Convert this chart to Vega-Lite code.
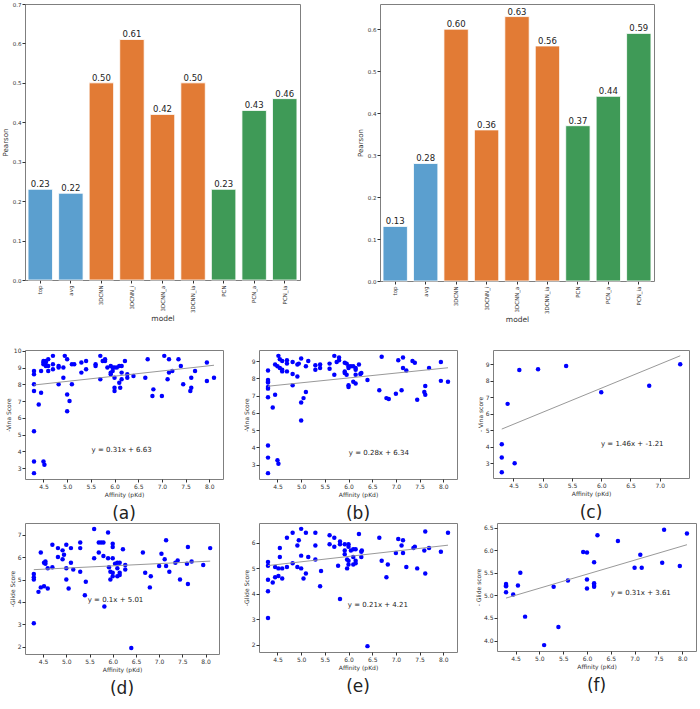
{
  "$schema": "https://vega.github.io/schema/vega-lite/v6.json",
  "padding": {"left": 0, "top": 1, "right": 0, "bottom": 0},
  "background": "white",
  "config": {
    "font": "DejaVu Sans",
    "view": {"stroke": "#7f7f7f", "strokeWidth": 1},
    "axis": {"domain": false, "grid": false, "tickColor": "#333", "tickSize": 3, "labelColor": "#333", "titleColor": "#333", "labelFontSize": 6, "titleFontSize": 6, "titleFontWeight": "normal", "labelPadding": 1, "titlePadding": 2, "labelOverlap": false, "labelFlush": false, "labelBound": false, "tickCount": 20},
    "title": {"fontWeight": "normal", "color": "#222"}
  },
  "datasets": {
    "bars": [
      {"chart": "L", "model": "top", "pearson": 0.23, "group": "base"},
      {"chart": "L", "model": "avg", "pearson": 0.22, "group": "base"},
      {"chart": "L", "model": "3DCNN", "pearson": 0.50, "group": "cnn"},
      {"chart": "L", "model": "3DCNN_i", "pearson": 0.61, "group": "cnn"},
      {"chart": "L", "model": "3DCNN_a", "pearson": 0.42, "group": "cnn"},
      {"chart": "L", "model": "3DCNN_ia", "pearson": 0.50, "group": "cnn"},
      {"chart": "L", "model": "PCN", "pearson": 0.23, "group": "pcn"},
      {"chart": "L", "model": "PCN_a", "pearson": 0.43, "group": "pcn"},
      {"chart": "L", "model": "PCN_ia", "pearson": 0.46, "group": "pcn"},
      {"chart": "R", "model": "top", "pearson": 0.13, "group": "base"},
      {"chart": "R", "model": "avg", "pearson": 0.28, "group": "base"},
      {"chart": "R", "model": "3DCNN", "pearson": 0.60, "group": "cnn"},
      {"chart": "R", "model": "3DCNN_i", "pearson": 0.36, "group": "cnn"},
      {"chart": "R", "model": "3DCNN_a", "pearson": 0.63, "group": "cnn"},
      {"chart": "R", "model": "3DCNN_ia", "pearson": 0.56, "group": "cnn"},
      {"chart": "R", "model": "PCN", "pearson": 0.37, "group": "pcn"},
      {"chart": "R", "model": "PCN_a", "pearson": 0.44, "group": "pcn"},
      {"chart": "R", "model": "PCN_ia", "pearson": 0.59, "group": "pcn"}
    ],
    "eqs": [
      {"panel": "a", "eq": "y = 0.31x + 6.63"},
      {"panel": "b", "eq": "y = 0.28x + 6.34"},
      {"panel": "c", "eq": "y = 1.46x + -1.21"},
      {"panel": "d", "eq": "y = 0.1x + 5.01"},
      {"panel": "e", "eq": "y = 0.21x + 4.21"},
      {"panel": "f", "eq": "y = 0.31x + 3.61"}
    ],
    "lines": [
      {"panel": "a", "affinity": 4.3, "score": 7.96}, {"panel": "a", "affinity": 8.1, "score": 9.14},
      {"panel": "b", "affinity": 4.3, "score": 7.54}, {"panel": "b", "affinity": 8.1, "score": 8.61},
      {"panel": "c", "affinity": 4.3, "score": 5.07}, {"panel": "c", "affinity": 7.35, "score": 9.52},
      {"panel": "d", "affinity": 4.3, "score": 5.44}, {"panel": "d", "affinity": 8.1, "score": 5.82},
      {"panel": "e", "affinity": 4.3, "score": 5.11}, {"panel": "e", "affinity": 8.1, "score": 5.91},
      {"panel": "f", "affinity": 4.3, "score": 4.94}, {"panel": "f", "affinity": 8.1, "score": 6.12}
    ],
    "scatter": [
      {"panel":"a","affinity":4.3,"score":8.8},{"panel":"a","affinity":4.3,"score":8.6},{"panel":"a","affinity":4.3,"score":8.0},{"panel":"a","affinity":4.3,"score":7.6},{"panel":"a","affinity":4.3,"score":5.2},{"panel":"a","affinity":4.3,"score":3.4},{"panel":"a","affinity":4.3,"score":2.7},
      {"panel":"a","affinity":4.4,"score":6.8},{"panel":"a","affinity":4.45,"score":7.5},{"panel":"a","affinity":4.45,"score":8.8},
      {"panel":"a","affinity":4.5,"score":9.3},{"panel":"a","affinity":4.5,"score":9.4},{"panel":"a","affinity":4.5,"score":9.2},{"panel":"a","affinity":4.5,"score":3.4},{"panel":"a","affinity":4.52,"score":3.2},
      {"panel":"a","affinity":4.55,"score":9.4},{"panel":"a","affinity":4.55,"score":9.3},{"panel":"a","affinity":4.55,"score":9.1},
      {"panel":"a","affinity":4.6,"score":9.5},{"panel":"a","affinity":4.6,"score":8.8},{"panel":"a","affinity":4.6,"score":9.1},
      {"panel":"a","affinity":4.7,"score":9.7},{"panel":"a","affinity":4.7,"score":9.2},{"panel":"a","affinity":4.7,"score":8.9},
      {"panel":"a","affinity":4.82,"score":9.1},{"panel":"a","affinity":4.82,"score":9.0},{"panel":"a","affinity":4.82,"score":8.0},
      {"panel":"a","affinity":4.92,"score":9.0},{"panel":"a","affinity":4.92,"score":8.4},{"panel":"a","affinity":4.95,"score":9.7},
      {"panel":"a","affinity":5.0,"score":9.5},{"panel":"a","affinity":5.0,"score":7.4},{"panel":"a","affinity":5.0,"score":6.4},{"panel":"a","affinity":5.05,"score":7.0},
      {"panel":"a","affinity":5.1,"score":9.2},{"panel":"a","affinity":5.1,"score":8.0},{"panel":"a","affinity":5.15,"score":9.2},
      {"panel":"a","affinity":5.3,"score":9.3},{"panel":"a","affinity":5.3,"score":8.7},{"panel":"a","affinity":5.4,"score":9.4},{"panel":"a","affinity":5.4,"score":8.9},
      {"panel":"a","affinity":5.6,"score":9.2},{"panel":"a","affinity":5.6,"score":9.1},{"panel":"a","affinity":5.7,"score":9.7},{"panel":"a","affinity":5.7,"score":8.3},
      {"panel":"a","affinity":5.75,"score":9.4},{"panel":"a","affinity":5.8,"score":9.5},{"panel":"a","affinity":5.8,"score":9.4},{"panel":"a","affinity":5.85,"score":9.0},
      {"panel":"a","affinity":5.92,"score":9.1},{"panel":"a","affinity":5.92,"score":8.7},{"panel":"a","affinity":5.92,"score":8.6},{"panel":"a","affinity":5.96,"score":8.8},{"panel":"a","affinity":5.96,"score":9.0},
      {"panel":"a","affinity":6.0,"score":9.0},{"panel":"a","affinity":6.0,"score":8.4},{"panel":"a","affinity":6.0,"score":7.8},{"panel":"a","affinity":6.0,"score":7.6},{"panel":"a","affinity":6.05,"score":9.0},
      {"panel":"a","affinity":6.1,"score":9.1},{"panel":"a","affinity":6.1,"score":8.1},{"panel":"a","affinity":6.12,"score":7.8},
      {"panel":"a","affinity":6.15,"score":9.1},{"panel":"a","affinity":6.15,"score":8.7},{"panel":"a","affinity":6.15,"score":8.3},{"panel":"a","affinity":6.22,"score":9.4},
      {"panel":"a","affinity":6.27,"score":8.6},{"panel":"a","affinity":6.27,"score":8.4},{"panel":"a","affinity":6.4,"score":8.5},
      {"panel":"a","affinity":6.65,"score":8.4},{"panel":"a","affinity":6.7,"score":9.5},{"panel":"a","affinity":6.8,"score":7.3},{"panel":"a","affinity":6.82,"score":7.7},
      {"panel":"a","affinity":7.0,"score":7.3},{"panel":"a","affinity":7.05,"score":9.7},{"panel":"a","affinity":7.12,"score":8.3},{"panel":"a","affinity":7.15,"score":9.5},{"panel":"a","affinity":7.15,"score":8.7},{"panel":"a","affinity":7.22,"score":8.8},
      {"panel":"a","affinity":7.35,"score":9.5},{"panel":"a","affinity":7.4,"score":9.1},{"panel":"a","affinity":7.45,"score":8.0},
      {"panel":"a","affinity":7.6,"score":7.6},{"panel":"a","affinity":7.62,"score":7.8},{"panel":"a","affinity":7.62,"score":8.4},{"panel":"a","affinity":7.7,"score":8.8},
      {"panel":"a","affinity":7.95,"score":9.3},{"panel":"a","affinity":7.95,"score":8.2},{"panel":"a","affinity":8.1,"score":8.4},

      {"panel":"b","affinity":4.3,"score":8.45},{"panel":"b","affinity":4.3,"score":7.9},{"panel":"b","affinity":4.3,"score":7.8},{"panel":"b","affinity":4.3,"score":7.75},{"panel":"b","affinity":4.3,"score":7.5},{"panel":"b","affinity":4.3,"score":7.4},{"panel":"b","affinity":4.3,"score":6.9},{"panel":"b","affinity":4.3,"score":4.1},{"panel":"b","affinity":4.3,"score":3.4},{"panel":"b","affinity":4.3,"score":2.5},
      {"panel":"b","affinity":4.4,"score":6.3},{"panel":"b","affinity":4.45,"score":8.8},{"panel":"b","affinity":4.45,"score":7.05},
      {"panel":"b","affinity":4.5,"score":3.25},{"panel":"b","affinity":4.5,"score":8.7},{"panel":"b","affinity":4.52,"score":9.3},{"panel":"b","affinity":4.52,"score":3.05},
      {"panel":"b","affinity":4.55,"score":9.1},{"panel":"b","affinity":4.55,"score":8.6},{"panel":"b","affinity":4.6,"score":9.0},{"panel":"b","affinity":4.6,"score":8.5},{"panel":"b","affinity":4.6,"score":8.4},
      {"panel":"b","affinity":4.7,"score":9.05},{"panel":"b","affinity":4.7,"score":8.85},{"panel":"b","affinity":4.7,"score":8.4},
      {"panel":"b","affinity":4.82,"score":8.95},{"panel":"b","affinity":4.82,"score":8.25},{"panel":"b","affinity":4.82,"score":7.6},
      {"panel":"b","affinity":4.92,"score":8.8},{"panel":"b","affinity":4.92,"score":8.1},{"panel":"b","affinity":4.95,"score":8.85},
      {"panel":"b","affinity":5.0,"score":9.15},{"panel":"b","affinity":5.0,"score":6.6},{"panel":"b","affinity":5.0,"score":5.55},{"panel":"b","affinity":5.05,"score":6.85},
      {"panel":"b","affinity":5.1,"score":8.7},{"panel":"b","affinity":5.1,"score":7.2},{"panel":"b","affinity":5.15,"score":9.0},
      {"panel":"b","affinity":5.3,"score":8.75},{"panel":"b","affinity":5.3,"score":8.5},{"panel":"b","affinity":5.4,"score":8.8},{"panel":"b","affinity":5.4,"score":8.6},
      {"panel":"b","affinity":5.6,"score":8.85},{"panel":"b","affinity":5.6,"score":8.55},{"panel":"b","affinity":5.7,"score":9.3},{"panel":"b","affinity":5.7,"score":8.2},
      {"panel":"b","affinity":5.75,"score":8.95},{"panel":"b","affinity":5.8,"score":9.2},{"panel":"b","affinity":5.8,"score":9.05},
      {"panel":"b","affinity":5.92,"score":8.9},{"panel":"b","affinity":5.92,"score":8.4},{"panel":"b","affinity":5.92,"score":8.3},{"panel":"b","affinity":5.96,"score":8.85},{"panel":"b","affinity":5.96,"score":8.2},
      {"panel":"b","affinity":6.0,"score":8.7},{"panel":"b","affinity":6.0,"score":8.6},{"panel":"b","affinity":6.0,"score":7.6},{"panel":"b","affinity":6.0,"score":7.5},{"panel":"b","affinity":6.05,"score":8.7},
      {"panel":"b","affinity":6.1,"score":8.7},{"panel":"b","affinity":6.1,"score":7.8},{"panel":"b","affinity":6.15,"score":8.6},{"panel":"b","affinity":6.15,"score":8.5},{"panel":"b","affinity":6.15,"score":8.2},{"panel":"b","affinity":6.15,"score":7.7},
      {"panel":"b","affinity":6.22,"score":8.8},{"panel":"b","affinity":6.27,"score":8.3},{"panel":"b","affinity":6.25,"score":8.25},{"panel":"b","affinity":6.4,"score":7.9},
      {"panel":"b","affinity":6.65,"score":7.3},{"panel":"b","affinity":6.7,"score":9.25},{"panel":"b","affinity":6.8,"score":6.85},{"panel":"b","affinity":6.85,"score":6.8},
      {"panel":"b","affinity":7.0,"score":7.1},{"panel":"b","affinity":7.05,"score":9.05},{"panel":"b","affinity":7.12,"score":7.3},{"panel":"b","affinity":7.15,"score":9.2},{"panel":"b","affinity":7.15,"score":8.6},{"panel":"b","affinity":7.22,"score":8.45},
      {"panel":"b","affinity":7.35,"score":9.0},{"panel":"b","affinity":7.4,"score":8.9},{"panel":"b","affinity":7.45,"score":6.75},
      {"panel":"b","affinity":7.6,"score":7.2},{"panel":"b","affinity":7.62,"score":7.05},{"panel":"b","affinity":7.62,"score":7.55},{"panel":"b","affinity":7.7,"score":8.6},
      {"panel":"b","affinity":7.95,"score":8.95},{"panel":"b","affinity":7.95,"score":7.85},{"panel":"b","affinity":8.1,"score":7.8},

      {"panel":"c","affinity":4.3,"score":4.15},{"panel":"c","affinity":4.3,"score":3.35},{"panel":"c","affinity":4.3,"score":2.45},{"panel":"c","affinity":4.4,"score":6.6},{"panel":"c","affinity":4.52,"score":3.0},{"panel":"c","affinity":4.6,"score":8.65},{"panel":"c","affinity":4.92,"score":8.7},{"panel":"c","affinity":5.4,"score":8.9},{"panel":"c","affinity":6.0,"score":7.3},{"panel":"c","affinity":6.82,"score":7.7},{"panel":"c","affinity":7.35,"score":9.0},

      {"panel":"d","affinity":4.3,"score":5.25},{"panel":"d","affinity":4.3,"score":5.1},{"panel":"d","affinity":4.3,"score":5.0},{"panel":"d","affinity":4.3,"score":3.05},
      {"panel":"d","affinity":4.4,"score":4.45},{"panel":"d","affinity":4.45,"score":6.2},{"panel":"d","affinity":4.45,"score":4.65},{"panel":"d","affinity":4.52,"score":4.7},{"panel":"d","affinity":4.52,"score":5.75},
      {"panel":"d","affinity":4.55,"score":5.7},{"panel":"d","affinity":4.55,"score":5.8},{"panel":"d","affinity":4.6,"score":5.5},{"panel":"d","affinity":4.6,"score":4.6},
      {"panel":"d","affinity":4.7,"score":6.55},{"panel":"d","affinity":4.7,"score":5.55},{"panel":"d","affinity":4.82,"score":6.4},{"panel":"d","affinity":4.82,"score":6.0},
      {"panel":"d","affinity":4.92,"score":6.3},{"panel":"d","affinity":4.92,"score":5.9},{"panel":"d","affinity":4.95,"score":6.1},
      {"panel":"d","affinity":5.0,"score":6.55},{"panel":"d","affinity":5.0,"score":5.5},{"panel":"d","affinity":5.0,"score":5.0},{"panel":"d","affinity":5.05,"score":4.6},
      {"panel":"d","affinity":5.1,"score":6.4},{"panel":"d","affinity":5.1,"score":5.75},{"panel":"d","affinity":5.15,"score":5.45},
      {"panel":"d","affinity":5.3,"score":6.65},{"panel":"d","affinity":5.3,"score":6.4},{"panel":"d","affinity":5.3,"score":5.35},{"panel":"d","affinity":5.4,"score":4.3},{"panel":"d","affinity":5.42,"score":4.9},
      {"panel":"d","affinity":5.6,"score":7.25},{"panel":"d","affinity":5.6,"score":5.95},{"panel":"d","affinity":5.7,"score":6.65},{"panel":"d","affinity":5.7,"score":6.2},{"panel":"d","affinity":5.75,"score":6.65},
      {"panel":"d","affinity":5.8,"score":6.65},{"panel":"d","affinity":5.8,"score":6.05},{"panel":"d","affinity":5.82,"score":3.8},
      {"panel":"d","affinity":5.9,"score":7.1},{"panel":"d","affinity":5.9,"score":5.95},{"panel":"d","affinity":5.92,"score":5.55},{"panel":"d","affinity":5.95,"score":5.35},{"panel":"d","affinity":5.95,"score":5.0},
      {"panel":"d","affinity":6.0,"score":6.6},{"panel":"d","affinity":6.0,"score":6.45},{"panel":"d","affinity":6.0,"score":5.95},{"panel":"d","affinity":6.0,"score":5.3},{"panel":"d","affinity":6.0,"score":5.15},{"panel":"d","affinity":6.05,"score":5.7},
      {"panel":"d","affinity":6.1,"score":5.75},{"panel":"d","affinity":6.1,"score":5.5},{"panel":"d","affinity":6.1,"score":5.15},{"panel":"d","affinity":6.15,"score":5.75},{"panel":"d","affinity":6.15,"score":5.3},{"panel":"d","affinity":6.15,"score":5.2},
      {"panel":"d","affinity":6.22,"score":6.35},{"panel":"d","affinity":6.27,"score":5.65},{"panel":"d","affinity":6.27,"score":5.45},{"panel":"d","affinity":6.4,"score":1.95},
      {"panel":"d","affinity":6.65,"score":6.2},{"panel":"d","affinity":6.7,"score":5.3},{"panel":"d","affinity":6.8,"score":4.65},{"panel":"d","affinity":6.82,"score":5.15},
      {"panel":"d","affinity":7.0,"score":5.6},{"panel":"d","affinity":7.05,"score":6.15},{"panel":"d","affinity":7.12,"score":5.9},{"panel":"d","affinity":7.15,"score":6.75},{"panel":"d","affinity":7.15,"score":5.6},{"panel":"d","affinity":7.22,"score":5.35},
      {"panel":"d","affinity":7.35,"score":5.75},{"panel":"d","affinity":7.4,"score":5.85},{"panel":"d","affinity":7.45,"score":5.0},
      {"panel":"d","affinity":7.6,"score":5.7},{"panel":"d","affinity":7.62,"score":6.45},{"panel":"d","affinity":7.62,"score":4.8},{"panel":"d","affinity":7.7,"score":5.8},{"panel":"d","affinity":7.95,"score":5.65},{"panel":"d","affinity":8.1,"score":6.4},

      {"panel":"e","affinity":4.3,"score":5.25},{"panel":"e","affinity":4.3,"score":5.1},{"panel":"e","affinity":4.3,"score":4.55},{"panel":"e","affinity":4.3,"score":4.1},{"panel":"e","affinity":4.3,"score":3.05},
      {"panel":"e","affinity":4.4,"score":4.45},{"panel":"e","affinity":4.45,"score":5.05},{"panel":"e","affinity":4.45,"score":4.65},{"panel":"e","affinity":4.52,"score":5.0},{"panel":"e","affinity":4.52,"score":4.7},
      {"panel":"e","affinity":4.55,"score":5.8},{"panel":"e","affinity":4.55,"score":5.45},{"panel":"e","affinity":4.6,"score":5.0},{"panel":"e","affinity":4.6,"score":4.6},
      {"panel":"e","affinity":4.7,"score":6.2},{"panel":"e","affinity":4.7,"score":5.05},{"panel":"e","affinity":4.82,"score":6.4},{"panel":"e","affinity":4.82,"score":5.2},
      {"panel":"e","affinity":4.92,"score":5.9},{"panel":"e","affinity":4.92,"score":5.05},{"panel":"e","affinity":4.95,"score":6.1},
      {"panel":"e","affinity":5.0,"score":6.55},{"panel":"e","affinity":5.0,"score":5.5},{"panel":"e","affinity":5.0,"score":5.0},{"panel":"e","affinity":5.05,"score":4.6},
      {"panel":"e","affinity":5.1,"score":6.4},{"panel":"e","affinity":5.1,"score":4.8},{"panel":"e","affinity":5.15,"score":5.45},
      {"panel":"e","affinity":5.3,"score":6.4},{"panel":"e","affinity":5.3,"score":5.9},{"panel":"e","affinity":5.3,"score":5.35},{"panel":"e","affinity":5.4,"score":4.3},{"panel":"e","affinity":5.42,"score":4.9},
      {"panel":"e","affinity":5.6,"score":6.3},{"panel":"e","affinity":5.6,"score":5.95},{"panel":"e","affinity":5.7,"score":6.2},{"panel":"e","affinity":5.7,"score":5.85},{"panel":"e","affinity":5.78,"score":5.1},
      {"panel":"e","affinity":5.82,"score":6.05},{"panel":"e","affinity":5.82,"score":5.95},{"panel":"e","affinity":5.82,"score":3.8},
      {"panel":"e","affinity":5.92,"score":5.95},{"panel":"e","affinity":5.92,"score":5.7},{"panel":"e","affinity":5.92,"score":5.55},{"panel":"e","affinity":5.97,"score":5.35},{"panel":"e","affinity":5.97,"score":5.0},
      {"panel":"e","affinity":6.0,"score":5.95},{"panel":"e","affinity":6.0,"score":5.85},{"panel":"e","affinity":6.0,"score":5.3},{"panel":"e","affinity":6.0,"score":5.15},{"panel":"e","affinity":6.05,"score":5.7},
      {"panel":"e","affinity":6.1,"score":5.75},{"panel":"e","affinity":6.1,"score":5.45},{"panel":"e","affinity":6.1,"score":5.15},{"panel":"e","affinity":6.15,"score":5.75},{"panel":"e","affinity":6.15,"score":5.3},{"panel":"e","affinity":6.15,"score":5.2},
      {"panel":"e","affinity":6.22,"score":6.35},{"panel":"e","affinity":6.27,"score":5.65},{"panel":"e","affinity":6.27,"score":5.45},{"panel":"e","affinity":6.28,"score":5.7},{"panel":"e","affinity":6.4,"score":1.95},
      {"panel":"e","affinity":6.65,"score":6.2},{"panel":"e","affinity":6.7,"score":5.3},{"panel":"e","affinity":6.8,"score":4.65},{"panel":"e","affinity":6.83,"score":5.15},
      {"panel":"e","affinity":7.0,"score":5.6},{"panel":"e","affinity":7.05,"score":6.15},{"panel":"e","affinity":7.12,"score":5.9},{"panel":"e","affinity":7.15,"score":6.1},{"panel":"e","affinity":7.15,"score":5.6},{"panel":"e","affinity":7.22,"score":5.05},
      {"panel":"e","affinity":7.37,"score":5.8},{"panel":"e","affinity":7.4,"score":5.85},{"panel":"e","affinity":7.45,"score":5.0},
      {"panel":"e","affinity":7.6,"score":5.7},{"panel":"e","affinity":7.62,"score":6.45},{"panel":"e","affinity":7.62,"score":4.8},{"panel":"e","affinity":7.7,"score":5.8},{"panel":"e","affinity":7.95,"score":5.65},{"panel":"e","affinity":8.1,"score":6.4},

      {"panel":"f","affinity":4.3,"score":5.25},{"panel":"f","affinity":4.3,"score":5.22},{"panel":"f","affinity":4.3,"score":5.2},{"panel":"f","affinity":4.3,"score":5.07},{"panel":"f","affinity":4.45,"score":5.02},{"panel":"f","affinity":4.55,"score":5.22},{"panel":"f","affinity":4.6,"score":5.5},{"panel":"f","affinity":4.7,"score":4.53},
      {"panel":"f","affinity":5.1,"score":3.9},{"panel":"f","affinity":5.3,"score":5.19},{"panel":"f","affinity":5.4,"score":4.3},{"panel":"f","affinity":5.6,"score":5.33},
      {"panel":"f","affinity":5.92,"score":5.96},{"panel":"f","affinity":6.0,"score":5.95},{"panel":"f","affinity":6.0,"score":5.35},{"panel":"f","affinity":6.0,"score":5.15},
      {"panel":"f","affinity":6.15,"score":5.73},{"panel":"f","affinity":6.15,"score":5.27},{"panel":"f","affinity":6.15,"score":5.23},{"panel":"f","affinity":6.15,"score":5.19},{"panel":"f","affinity":6.22,"score":6.33},{"panel":"f","affinity":6.65,"score":6.2},
      {"panel":"f","affinity":7.0,"score":5.61},{"panel":"f","affinity":7.12,"score":5.9},{"panel":"f","affinity":7.15,"score":5.61},{"panel":"f","affinity":7.58,"score":5.72},{"panel":"f","affinity":7.62,"score":6.45},{"panel":"f","affinity":7.95,"score":5.65},{"panel":"f","affinity":8.1,"score":6.37}
    ]
  },
  "spacing": 23,
  "vconcat": [
    {
      "hconcat": [
        {
          "width": 275, "height": 276,
          "data": {"name": "bars"},
          "transform": [{"filter": "datum.chart === 'L'"}],
          "encoding": {
            "x": {"field": "model", "type": "nominal", "sort": null, "scale": {"paddingInner": 0.2, "paddingOuter": 0.1}, "axis": {"labelAngle": -90, "title": "model", "titleFontSize": 7.5, "labelFontSize": 5.5, "titlePadding": 2, "labelPadding": 2}},
            "y": {"field": "pearson", "type": "quantitative", "scale": {"domain": [0, 0.7], "nice": false}, "axis": {"values": [0, 0.1, 0.2, 0.3, 0.4, 0.5, 0.6, 0.7], "format": ".1f", "title": "Pearson", "titleFontSize": 7, "labelFontSize": 5.5, "titlePadding": 4}}
          },
          "layer": [
            {"mark": {"type": "bar", "stroke": "white", "strokeWidth": 0.8}, "encoding": {"color": {"field": "group", "type": "nominal", "scale": {"domain": ["base", "cnn", "pcn"], "range": ["#5b9fcf", "#e27b35", "#3f9a57"]}, "legend": null}}},
            {"mark": {"type": "text", "dy": -5, "fontSize": 8.5, "color": "#222"}, "encoding": {"text": {"field": "pearson", "type": "quantitative", "format": ".2f"}}}
          ]
        },
        {
          "width": 274, "height": 277,
          "data": {"name": "bars"},
          "transform": [{"filter": "datum.chart === 'R'"}],
          "encoding": {
            "x": {"field": "model", "type": "nominal", "sort": null, "scale": {"paddingInner": 0.2, "paddingOuter": 0.1}, "axis": {"labelAngle": -90, "title": "model", "titleFontSize": 7.5, "labelFontSize": 5.5, "titlePadding": 2, "labelPadding": 2}},
            "y": {"field": "pearson", "type": "quantitative", "scale": {"domain": [0, 0.66], "nice": false}, "axis": {"values": [0, 0.1, 0.2, 0.3, 0.4, 0.5, 0.6], "format": ".1f", "title": "Pearson", "titleFontSize": 7, "labelFontSize": 5.5, "titlePadding": 4}}
          },
          "layer": [
            {"mark": {"type": "bar", "stroke": "white", "strokeWidth": 0.8}, "encoding": {"color": {"field": "group", "type": "nominal", "scale": {"domain": ["base", "cnn", "pcn"], "range": ["#5b9fcf", "#e27b35", "#3f9a57"]}, "legend": null}}},
            {"mark": {"type": "text", "dy": -5, "fontSize": 8.5, "color": "#222"}, "encoding": {"text": {"field": "pearson", "type": "quantitative", "format": ".2f"}}}
          ]
        }
      ],
      "spacing": 80,
      "bounds": "flush"
    },
    {
      "spacing": -4,
      "vconcat": [
        {
          "hconcat": [
            {
              "width": 198, "height": 129,
              "title": {"text": "(a)", "orient": "bottom", "fontSize": 17, "offset": 9},
              "layer": [
                {"data": {"name": "scatter"}, "transform": [{"filter": "datum.panel === 'a'"}], "mark": {"type": "circle", "size": 20, "color": "#0000ff", "opacity": 1},
                 "encoding": {"x": {"field": "affinity", "type": "quantitative", "scale": {"domain": [4.11, 8.29], "nice": false, "zero": false}, "axis": {"values": [4.5, 5, 5.5, 6, 6.5, 7, 7.5, 8], "format": ".1f", "title": "Affinity (pKd)", "tickCount": 20}},
                              "y": {"field": "score", "type": "quantitative", "scale": {"domain": [2.35, 10.05], "nice": false, "zero": false}, "axis": {"values": [3, 4, 5, 6, 7, 8, 9, 10], "format": "d", "title": "-Vina Score", "tickCount": 20}}}},
                {"data": {"name": "lines"}, "transform": [{"filter": "datum.panel === 'a'"}], "mark": {"type": "line", "color": "#999999", "strokeWidth": 1}, "encoding": {"x": {"field": "affinity", "type": "quantitative"}, "y": {"field": "score", "type": "quantitative"}}},
                {"data": {"name": "eqs"}, "transform": [{"filter": "datum.panel === 'a'"}], "mark": {"type": "text", "fontSize": 7, "color": "#222"}, "encoding": {"x": {"datum": 6.15}, "y": {"datum": 4.1}, "text": {"field": "eq"}}}
              ]
            },
            {
              "width": 198, "height": 129,
              "title": {"text": "(b)", "orient": "bottom", "fontSize": 17, "offset": 9},
              "layer": [
                {"data": {"name": "scatter"}, "transform": [{"filter": "datum.panel === 'b'"}], "mark": {"type": "circle", "size": 20, "color": "#0000ff", "opacity": 1},
                 "encoding": {"x": {"field": "affinity", "type": "quantitative", "scale": {"domain": [4.11, 8.29], "nice": false, "zero": false}, "axis": {"values": [4.5, 5, 5.5, 6, 6.5, 7, 7.5, 8], "format": ".1f", "title": "Affinity (pKd)", "tickCount": 20}},
                              "y": {"field": "score", "type": "quantitative", "scale": {"domain": [2.16, 9.64], "nice": false, "zero": false}, "axis": {"values": [3, 4, 5, 6, 7, 8, 9], "format": "d", "title": "-Vina Score", "tickCount": 20}}}},
                {"data": {"name": "lines"}, "transform": [{"filter": "datum.panel === 'b'"}], "mark": {"type": "line", "color": "#999999", "strokeWidth": 1}, "encoding": {"x": {"field": "affinity", "type": "quantitative"}, "y": {"field": "score", "type": "quantitative"}}},
                {"data": {"name": "eqs"}, "transform": [{"filter": "datum.panel === 'b'"}], "mark": {"type": "text", "fontSize": 7, "color": "#222"}, "encoding": {"x": {"datum": 6.64}, "y": {"datum": 3.65}, "text": {"field": "eq"}}}
              ]
            },
            {
              "width": 196, "height": 128,
              "title": {"text": "(c)", "orient": "bottom", "fontSize": 17, "offset": 9},
              "layer": [
                {"data": {"name": "scatter"}, "transform": [{"filter": "datum.panel === 'c'"}], "mark": {"type": "circle", "size": 20, "color": "#0000ff", "opacity": 1},
                 "encoding": {"x": {"field": "affinity", "type": "quantitative", "scale": {"domain": [4.15, 7.5], "nice": false, "zero": false}, "axis": {"values": [4.5, 5, 5.5, 6, 6.5, 7], "format": ".1f", "title": "Affinity (pKd)", "tickCount": 20}},
                              "y": {"field": "score", "type": "quantitative", "scale": {"domain": [2.1, 9.87], "nice": false, "zero": false}, "axis": {"values": [3, 4, 5, 6, 7, 8, 9], "format": "d", "title": "- Vina score", "tickCount": 20}}}},
                {"data": {"name": "lines"}, "transform": [{"filter": "datum.panel === 'c'"}], "mark": {"type": "line", "color": "#999999", "strokeWidth": 1}, "encoding": {"x": {"field": "affinity", "type": "quantitative"}, "y": {"field": "score", "type": "quantitative"}}},
                {"data": {"name": "eqs"}, "transform": [{"filter": "datum.panel === 'c'"}], "mark": {"type": "text", "fontSize": 7, "color": "#222"}, "encoding": {"x": {"datum": 6.53}, "y": {"datum": 4.14}, "text": {"field": "eq"}}}
              ]
            }
          ],
          "spacing": 36,
          "bounds": "flush"
        },
        {
          "hconcat": [
            {
              "width": 194, "height": 131,
              "title": {"text": "(d)", "orient": "bottom", "fontSize": 17, "offset": 9},
              "layer": [
                {"data": {"name": "scatter"}, "transform": [{"filter": "datum.panel === 'd'"}], "mark": {"type": "circle", "size": 20, "color": "#0000ff", "opacity": 1},
                 "encoding": {"x": {"field": "affinity", "type": "quantitative", "scale": {"domain": [4.11, 8.29], "nice": false, "zero": false}, "axis": {"values": [4.5, 5, 5.5, 6, 6.5, 7, 7.5, 8], "format": ".1f", "title": "Affinity (pKd)", "tickCount": 20}},
                              "y": {"field": "score", "type": "quantitative", "scale": {"domain": [1.68, 7.52], "nice": false, "zero": false}, "axis": {"values": [2, 3, 4, 5, 6, 7], "format": "d", "title": "-Glide Score", "tickCount": 20}}}},
                {"data": {"name": "lines"}, "transform": [{"filter": "datum.panel === 'd'"}], "mark": {"type": "line", "color": "#999999", "strokeWidth": 1}, "encoding": {"x": {"field": "affinity", "type": "quantitative"}, "y": {"field": "score", "type": "quantitative"}}},
                {"data": {"name": "eqs"}, "transform": [{"filter": "datum.panel === 'd'"}], "mark": {"type": "text", "fontSize": 7, "color": "#222"}, "encoding": {"x": {"datum": 6.06}, "y": {"datum": 4.07}, "text": {"field": "eq"}}}
              ]
            },
            {
              "width": 198, "height": 129,
              "title": {"text": "(e)", "orient": "bottom", "fontSize": 17, "offset": 9},
              "layer": [
                {"data": {"name": "scatter"}, "transform": [{"filter": "datum.panel === 'e'"}], "mark": {"type": "circle", "size": 20, "color": "#0000ff", "opacity": 1},
                 "encoding": {"x": {"field": "affinity", "type": "quantitative", "scale": {"domain": [4.11, 8.29], "nice": false, "zero": false}, "axis": {"values": [4.5, 5, 5.5, 6, 6.5, 7, 7.5, 8], "format": ".1f", "title": "Affinity (pKd)", "tickCount": 20}},
                              "y": {"field": "score", "type": "quantitative", "scale": {"domain": [1.72, 6.78], "nice": false, "zero": false}, "axis": {"values": [2, 3, 4, 5, 6], "format": "d", "title": "-Glide Score", "tickCount": 20}}}},
                {"data": {"name": "lines"}, "transform": [{"filter": "datum.panel === 'e'"}], "mark": {"type": "line", "color": "#999999", "strokeWidth": 1}, "encoding": {"x": {"field": "affinity", "type": "quantitative"}, "y": {"field": "score", "type": "quantitative"}}},
                {"data": {"name": "eqs"}, "transform": [{"filter": "datum.panel === 'e'"}], "mark": {"type": "text", "fontSize": 7, "color": "#222"}, "encoding": {"x": {"datum": 6.62}, "y": {"datum": 3.55}, "text": {"field": "eq"}}}
              ]
            },
            {
              "width": 199, "height": 128,
              "title": {"text": "(f)", "orient": "bottom", "fontSize": 17, "offset": 9},
              "layer": [
                {"data": {"name": "scatter"}, "transform": [{"filter": "datum.panel === 'f'"}], "mark": {"type": "circle", "size": 20, "color": "#0000ff", "opacity": 1},
                 "encoding": {"x": {"field": "affinity", "type": "quantitative", "scale": {"domain": [4.11, 8.29], "nice": false, "zero": false}, "axis": {"values": [4.5, 5, 5.5, 6, 6.5, 7, 7.5, 8], "format": ".1f", "title": "Affinity (pKd)", "tickCount": 20}},
                              "y": {"field": "score", "type": "quantitative", "scale": {"domain": [3.77, 6.6], "nice": false, "zero": false}, "axis": {"values": [4, 4.5, 5, 5.5, 6, 6.5], "format": ".1f", "title": "- Glide score", "tickCount": 20}}}},
                {"data": {"name": "lines"}, "transform": [{"filter": "datum.panel === 'f'"}], "mark": {"type": "line", "color": "#999999", "strokeWidth": 1}, "encoding": {"x": {"field": "affinity", "type": "quantitative"}, "y": {"field": "score", "type": "quantitative"}}},
                {"data": {"name": "eqs"}, "transform": [{"filter": "datum.panel === 'f'"}], "mark": {"type": "text", "fontSize": 7, "color": "#222"}, "encoding": {"x": {"datum": 7.13}, "y": {"datum": 5.05}, "text": {"field": "eq"}}}
              ]
            }
          ],
          "spacing": 40,
          "bounds": "flush"
        }
      ]
    }
  ]
}
